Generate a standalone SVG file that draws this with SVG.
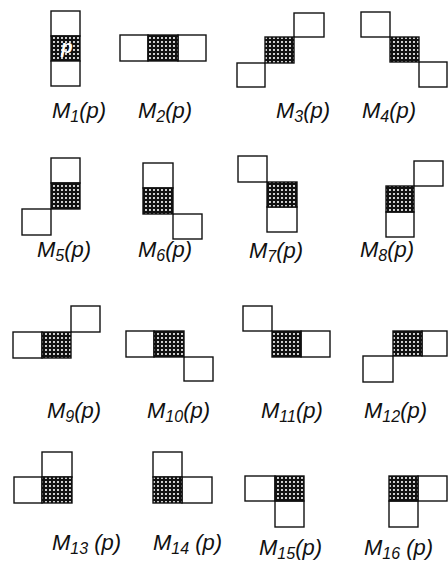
<svg xmlns="http://www.w3.org/2000/svg" width="448" height="566" viewBox="0 0 448 566">
<style>
.c{fill:#fff;stroke:#111;stroke-width:1.4}
.s{fill:url(#dots);stroke:#111;stroke-width:1.4}
.l{font-family:"Liberation Sans",Arial,sans-serif;font-style:italic;font-size:22px;fill:#111}
.sub{font-size:16px}
.pp{font-family:"Liberation Sans",Arial,sans-serif;font-style:italic;font-weight:bold;font-size:19px;fill:#fff}
</style>
<defs>
<pattern id="dots" width="4" height="4" patternUnits="userSpaceOnUse">
<rect width="4" height="4" fill="#111"/>
<circle cx="2" cy="2" r="1.05" fill="#fff"/>
</pattern>
</defs>
<rect width="448" height="566" fill="#fff"/>
<g id="M1">
<rect class="c" x="51" y="11" width="29" height="25"/>
<rect class="s" x="51" y="36" width="29" height="25"/>
<rect class="c" x="51" y="61" width="29" height="25"/>
<text class="pp" x="61" y="53">p</text>
<text class="l" x="52" y="118">M<tspan class="sub" dy="4">1</tspan><tspan dy="-4">(p)</tspan></text>
</g>
<g id="M2">
<rect class="c" x="120" y="35" width="28" height="26"/>
<rect class="c" x="178" y="35" width="28" height="26"/>
<rect class="s" x="148" y="35" width="30" height="26"/>
<text class="l" x="138" y="118">M<tspan class="sub" dy="4">2</tspan><tspan dy="-4">(p)</tspan></text>
</g>
<g id="M3">
<rect class="c" x="294" y="13" width="30" height="24"/>
<rect class="c" x="237" y="63" width="28" height="24"/>
<rect class="s" x="265" y="37" width="29" height="26"/>
<text class="l" x="276" y="118">M<tspan class="sub" dy="4">3</tspan><tspan dy="-4">(p)</tspan></text>
</g>
<g id="M4">
<rect class="c" x="361" y="12" width="29" height="25"/>
<rect class="c" x="419" y="62" width="28" height="25"/>
<rect class="s" x="390" y="37" width="29" height="25"/>
<text class="l" x="362" y="118">M<tspan class="sub" dy="4">4</tspan><tspan dy="-4">(p)</tspan></text>
</g>
<g id="M5">
<rect class="c" x="51" y="158" width="29" height="25"/>
<rect class="c" x="22" y="209" width="29" height="26"/>
<rect class="s" x="51" y="183" width="29" height="26"/>
<text class="l" x="37" y="257">M<tspan class="sub" dy="4">5</tspan><tspan dy="-4">(p)</tspan></text>
</g>
<g id="M6">
<rect class="c" x="143" y="163" width="30" height="25"/>
<rect class="c" x="173" y="214" width="29" height="25"/>
<rect class="s" x="143" y="188" width="30" height="26"/>
<text class="l" x="138" y="257">M<tspan class="sub" dy="4">6</tspan><tspan dy="-4">(p)</tspan></text>
</g>
<g id="M7">
<rect class="c" x="238" y="156" width="29" height="26"/>
<rect class="c" x="267" y="207" width="30" height="25"/>
<rect class="s" x="267" y="182" width="30" height="25"/>
<text class="l" x="249" y="258">M<tspan class="sub" dy="4">7</tspan><tspan dy="-4">(p)</tspan></text>
</g>
<g id="M8">
<rect class="c" x="414" y="161" width="29" height="25"/>
<rect class="c" x="386" y="212" width="28" height="25"/>
<rect class="s" x="386" y="186" width="28" height="26"/>
<text class="l" x="360" y="257">M<tspan class="sub" dy="4">8</tspan><tspan dy="-4">(p)</tspan></text>
</g>
<g id="M9">
<rect class="c" x="71" y="306" width="29" height="26"/>
<rect class="c" x="13" y="332" width="29" height="26"/>
<rect class="s" x="42" y="332" width="29" height="26"/>
<text class="l" x="47" y="418">M<tspan class="sub" dy="4">9</tspan><tspan dy="-4">(p)</tspan></text>
</g>
<g id="M10">
<rect class="c" x="126" y="331" width="28" height="26"/>
<rect class="c" x="184" y="357" width="29" height="24"/>
<rect class="s" x="154" y="331" width="30" height="26"/>
<text class="l" x="147" y="418">M<tspan class="sub" dy="4">10</tspan><tspan dy="-4">(p)</tspan></text>
</g>
<g id="M11">
<rect class="c" x="243" y="306" width="29" height="25"/>
<rect class="c" x="301" y="331" width="29" height="26"/>
<rect class="s" x="272" y="331" width="29" height="26"/>
<text class="l" x="261" y="418">M<tspan class="sub" dy="4">11</tspan><tspan dy="-4">(p)</tspan></text>
</g>
<g id="M12">
<rect class="c" x="363" y="356" width="30" height="26"/>
<rect class="c" x="422" y="331" width="25" height="25"/>
<rect class="s" x="393" y="331" width="29" height="25"/>
<text class="l" x="364" y="418">M<tspan class="sub" dy="4">12</tspan><tspan dy="-4">(p)</tspan></text>
</g>
<g id="M13">
<rect class="c" x="42" y="452" width="30" height="25"/>
<rect class="c" x="14" y="477" width="28" height="26"/>
<rect class="s" x="42" y="477" width="30" height="26"/>
<text class="l" x="52" y="550">M<tspan class="sub" dy="4">13</tspan><tspan dy="-4"> (p)</tspan></text>
</g>
<g id="M14">
<rect class="c" x="153" y="452" width="29" height="25"/>
<rect class="c" x="182" y="477" width="30" height="26"/>
<rect class="s" x="153" y="477" width="29" height="26"/>
<text class="l" x="153" y="550">M<tspan class="sub" dy="4">14</tspan><tspan dy="-4"> (p)</tspan></text>
</g>
<g id="M15">
<rect class="c" x="245" y="476" width="30" height="25"/>
<rect class="c" x="275" y="501" width="29" height="26"/>
<rect class="s" x="275" y="476" width="29" height="25"/>
<text class="l" x="259" y="555">M<tspan class="sub" dy="4">15</tspan><tspan dy="-4">(p)</tspan></text>
</g>
<g id="M16">
<rect class="c" x="418" y="476" width="29" height="25"/>
<rect class="c" x="389" y="501" width="29" height="26"/>
<rect class="s" x="389" y="476" width="29" height="25"/>
<text class="l" x="364" y="555">M<tspan class="sub" dy="4">16</tspan><tspan dy="-4"> (p)</tspan></text>
</g>
<g id="connectors"/>
</svg>
